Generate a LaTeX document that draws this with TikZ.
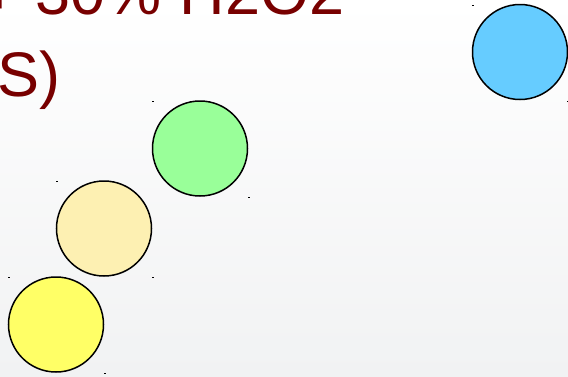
\documentclass[tikz,border=0pt]{standalone}
\usepackage{fontspec}
\setmainfont{Liberation Sans}
\definecolor{txtred}{RGB}{120,0,0}
\definecolor{cblue}{RGB}{102,204,255}
\definecolor{cgreen}{RGB}{153,255,153}
\definecolor{cbeige}{RGB}{253,240,178}
\definecolor{cyellow}{RGB}{255,255,102}
\definecolor{bgbot}{RGB}{241,242,243}
\tikzset{
  ball/.style={circle, draw=black, line width=1.5pt, minimum size=95pt, inner sep=0pt},
  bigtxt/.style={anchor=base west, inner sep=0pt, text=txtred, font=\fontsize{63}{63}\selectfont},
  tick/.style={fill=black}
}
\begin{document}
\begin{tikzpicture}[x=1pt,y=-1pt]
\useasboundingbox (0,0) rectangle (568,376);
\shade[top color=white, bottom color=bgbot] (0,0) rectangle (568,376);
\node[bigtxt] (l1) at (-18.5,14) {+ 30\% H2O2};
\node[bigtxt] (l2) at (-3,96) {S)};
\node[ball, fill=cblue] (blue) at (520,52) {};
\node[ball, fill=cgreen] (green) at (200,148.5) {};
\node[ball, fill=cbeige] (beige) at (104,228.5) {};
\node[ball, fill=cyellow] (yellow) at (56,324.5) {};
\foreach \x/\y in {472/4.5, 566.5/100.5, 152/100.5, 248/196.5, 56/180.5, 152/276.5, 8/276.5, 104/372.5}
  \fill[tick] (\x,\y) rectangle ++(2,1.2);
\end{tikzpicture}
\end{document}
